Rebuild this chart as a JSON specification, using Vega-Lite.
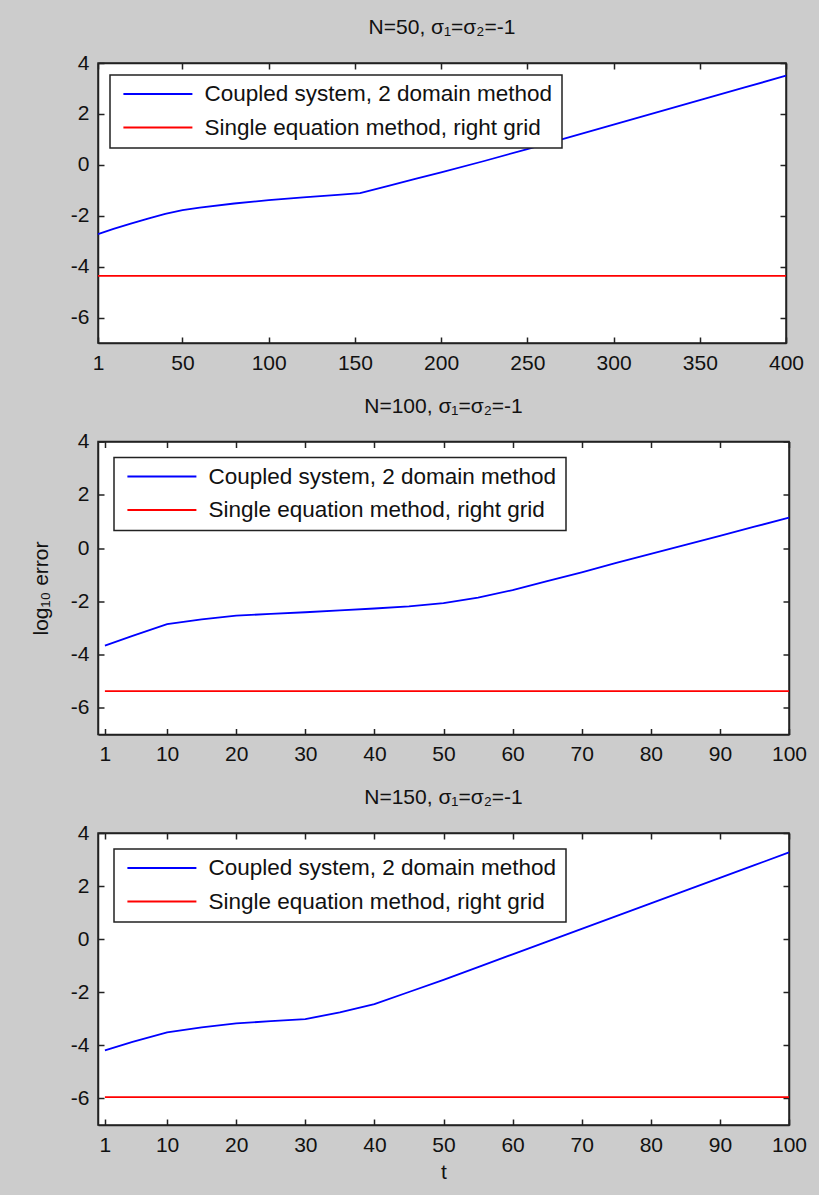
{
  "$schema": "https://vega.github.io/schema/vega-lite/v6.json",
  "background": "#cccccc",
  "padding": {"left": 29, "top": 16, "right": 12, "bottom": 13},
  "bounds": "flush",
  "spacing": 98.5,
  "datasets": {
    "p1": [
      {"t": 1, "v": -2.72, "s": "Coupled system, 2 domain method"},
      {"t": 10, "v": -2.52, "s": "Coupled system, 2 domain method"},
      {"t": 20, "v": -2.31, "s": "Coupled system, 2 domain method"},
      {"t": 30, "v": -2.11, "s": "Coupled system, 2 domain method"},
      {"t": 40, "v": -1.93, "s": "Coupled system, 2 domain method"},
      {"t": 50, "v": -1.78, "s": "Coupled system, 2 domain method"},
      {"t": 60, "v": -1.68, "s": "Coupled system, 2 domain method"},
      {"t": 80, "v": -1.52, "s": "Coupled system, 2 domain method"},
      {"t": 100, "v": -1.39, "s": "Coupled system, 2 domain method"},
      {"t": 120, "v": -1.28, "s": "Coupled system, 2 domain method"},
      {"t": 140, "v": -1.18, "s": "Coupled system, 2 domain method"},
      {"t": 153, "v": -1.11, "s": "Coupled system, 2 domain method"},
      {"t": 170, "v": -0.82, "s": "Coupled system, 2 domain method"},
      {"t": 185, "v": -0.55, "s": "Coupled system, 2 domain method"},
      {"t": 200, "v": -0.3, "s": "Coupled system, 2 domain method"},
      {"t": 225, "v": 0.15, "s": "Coupled system, 2 domain method"},
      {"t": 250, "v": 0.62, "s": "Coupled system, 2 domain method"},
      {"t": 275, "v": 1.1, "s": "Coupled system, 2 domain method"},
      {"t": 300, "v": 1.58, "s": "Coupled system, 2 domain method"},
      {"t": 325, "v": 2.06, "s": "Coupled system, 2 domain method"},
      {"t": 350, "v": 2.54, "s": "Coupled system, 2 domain method"},
      {"t": 375, "v": 3.02, "s": "Coupled system, 2 domain method"},
      {"t": 400, "v": 3.5, "s": "Coupled system, 2 domain method"},
      {"t": 1, "v": -4.36, "s": "Single equation method, right grid"},
      {"t": 400, "v": -4.36, "s": "Single equation method, right grid"}
    ],
    "p2": [
      {"t": 1, "v": -3.66, "s": "Coupled system, 2 domain method"},
      {"t": 5, "v": -3.3, "s": "Coupled system, 2 domain method"},
      {"t": 10, "v": -2.86, "s": "Coupled system, 2 domain method"},
      {"t": 15, "v": -2.68, "s": "Coupled system, 2 domain method"},
      {"t": 20, "v": -2.54, "s": "Coupled system, 2 domain method"},
      {"t": 25, "v": -2.47, "s": "Coupled system, 2 domain method"},
      {"t": 30, "v": -2.41, "s": "Coupled system, 2 domain method"},
      {"t": 35, "v": -2.34, "s": "Coupled system, 2 domain method"},
      {"t": 40, "v": -2.27, "s": "Coupled system, 2 domain method"},
      {"t": 45, "v": -2.19, "s": "Coupled system, 2 domain method"},
      {"t": 50, "v": -2.07, "s": "Coupled system, 2 domain method"},
      {"t": 55, "v": -1.86, "s": "Coupled system, 2 domain method"},
      {"t": 60, "v": -1.58, "s": "Coupled system, 2 domain method"},
      {"t": 65, "v": -1.24, "s": "Coupled system, 2 domain method"},
      {"t": 70, "v": -0.91, "s": "Coupled system, 2 domain method"},
      {"t": 75, "v": -0.56, "s": "Coupled system, 2 domain method"},
      {"t": 80, "v": -0.22, "s": "Coupled system, 2 domain method"},
      {"t": 85, "v": 0.12, "s": "Coupled system, 2 domain method"},
      {"t": 90, "v": 0.46, "s": "Coupled system, 2 domain method"},
      {"t": 95, "v": 0.8, "s": "Coupled system, 2 domain method"},
      {"t": 100, "v": 1.14, "s": "Coupled system, 2 domain method"},
      {"t": 1, "v": -5.37, "s": "Single equation method, right grid"},
      {"t": 100, "v": -5.37, "s": "Single equation method, right grid"}
    ],
    "p3": [
      {"t": 1, "v": -4.19, "s": "Coupled system, 2 domain method"},
      {"t": 5, "v": -3.87, "s": "Coupled system, 2 domain method"},
      {"t": 10, "v": -3.51, "s": "Coupled system, 2 domain method"},
      {"t": 15, "v": -3.32, "s": "Coupled system, 2 domain method"},
      {"t": 20, "v": -3.17, "s": "Coupled system, 2 domain method"},
      {"t": 25, "v": -3.09, "s": "Coupled system, 2 domain method"},
      {"t": 30, "v": -3.01, "s": "Coupled system, 2 domain method"},
      {"t": 35, "v": -2.76, "s": "Coupled system, 2 domain method"},
      {"t": 40, "v": -2.45, "s": "Coupled system, 2 domain method"},
      {"t": 45, "v": -1.99, "s": "Coupled system, 2 domain method"},
      {"t": 50, "v": -1.53, "s": "Coupled system, 2 domain method"},
      {"t": 55, "v": -1.05, "s": "Coupled system, 2 domain method"},
      {"t": 60, "v": -0.57, "s": "Coupled system, 2 domain method"},
      {"t": 65, "v": -0.09, "s": "Coupled system, 2 domain method"},
      {"t": 70, "v": 0.39, "s": "Coupled system, 2 domain method"},
      {"t": 75, "v": 0.87, "s": "Coupled system, 2 domain method"},
      {"t": 80, "v": 1.35, "s": "Coupled system, 2 domain method"},
      {"t": 85, "v": 1.83, "s": "Coupled system, 2 domain method"},
      {"t": 90, "v": 2.31, "s": "Coupled system, 2 domain method"},
      {"t": 95, "v": 2.79, "s": "Coupled system, 2 domain method"},
      {"t": 100, "v": 3.27, "s": "Coupled system, 2 domain method"},
      {"t": 1, "v": -5.95, "s": "Single equation method, right grid"},
      {"t": 100, "v": -5.95, "s": "Single equation method, right grid"}
    ]
  },
  "config": {
    "view": {"fill": "white", "stroke": "#222222", "strokeWidth": 1.5},
    "font": "Liberation Sans",
    "axis": {
      "grid": false,
      "domainColor": "#222222",
      "domainWidth": 1.5,
      "tickColor": "#222222",
      "tickWidth": 1.5,
      "tickSize": -6,
      "labelPadding": 15,
      "labelColor": "#111111",
      "labelFont": "Liberation Sans",
      "labelFontSize": 21,
      "labelFlush": false,
      "labelOverlap": false,
      "labelExpr": "replace(datum.label, '−', '-')",
      "titleFont": "Liberation Sans",
      "titleFontSize": 21,
      "titleFontWeight": "normal",
      "titleColor": "#111111"
    },
    "legend": {
      "orient": "top-left",
      "symbolType": "stroke",
      "symbolSize": 4761,
      "symbolStrokeWidth": 1.8,
      "symbolOffset": 3.4,
      "labelOffset": 11,
      "labelFont": "Liberation Sans",
      "labelFontSize": 22.5,
      "labelColor": "#111111",
      "labelLimit": 0,
      "padding": 9,
      "rowPadding": 10.5,
      "clipHeight": 20,
      "strokeColor": "#222222",
      "strokeWidth": 1.5,
      "fillColor": "white"
    },
    "title": {"font": "Liberation Sans", "fontSize": 21, "fontWeight": "normal", "color": "#111111", "offset": 14, "baseline": "alphabetic"},
    "line": {"strokeWidth": 1.8}
  },
  "resolve": {"scale": {"color": "independent"}, "legend": {"color": "independent"}},
  "vconcat": [
    {
      "width": 688,
      "height": 280,
      "title": "N=50, σ₁=σ₂=-1",
      "data": {"name": "p1"},
      "layer": [
        {
          "mark": {"type": "line"},
          "encoding": {
            "x": {"field": "t", "type": "quantitative", "scale": {"domain": [1, 400], "nice": false, "zero": false}, "axis": {"orient": "bottom", "title": null, "values": [1, 50, 100, 150, 200, 250, 300, 350, 400]}},
            "y": {"field": "v", "type": "quantitative", "scale": {"domain": [-7, 4], "nice": false, "zero": false}, "axis": {"orient": "left", "title": null, "values": [-6, -4, -2, 0, 2, 4]}},
            "color": {"field": "s", "type": "nominal", "scale": {"domain": ["Coupled system, 2 domain method", "Single equation method, right grid"], "range": ["#0000ff", "#ff0000"]}, "legend": {"title": null, "offset": 12}}
          }
        },
        {
          "mark": {"type": "line", "opacity": 0},
          "encoding": {
            "x": {"field": "t", "type": "quantitative", "scale": {"domain": [1, 400], "nice": false, "zero": false}, "axis": {"orient": "top", "title": null, "labels": false, "values": [1, 50, 100, 150, 200, 250, 300, 350, 400]}},
            "y": {"field": "v", "type": "quantitative", "scale": {"domain": [-7, 4], "nice": false, "zero": false}, "axis": {"orient": "right", "title": null, "labels": false, "values": [-6, -4, -2, 0, 2, 4]}},
            "detail": {"field": "s", "type": "nominal"}
          }
        }
      ],
      "resolve": {"axis": {"x": "independent", "y": "independent"}}
    },
    {
      "width": 691,
      "height": 293,
      "title": "N=100, σ₁=σ₂=-1",
      "data": {"name": "p2"},
      "layer": [
        {
          "mark": {"type": "line"},
          "encoding": {
            "x": {"field": "t", "type": "quantitative", "scale": {"domain": [0, 100], "nice": false, "zero": false}, "axis": {"orient": "bottom", "title": null, "values": [1, 10, 20, 30, 40, 50, 60, 70, 80, 90, 100]}},
            "y": {"field": "v", "type": "quantitative", "scale": {"domain": [-7, 4], "nice": false, "zero": false}, "axis": {"orient": "left", "title": "log₁₀ error", "titlePadding": 19, "values": [-6, -4, -2, 0, 2, 4]}},
            "color": {"field": "s", "type": "nominal", "scale": {"domain": ["Coupled system, 2 domain method", "Single equation method, right grid"], "range": ["#0000ff", "#ff0000"]}, "legend": {"title": null, "offset": 16}}
          }
        },
        {
          "mark": {"type": "line", "opacity": 0},
          "encoding": {
            "x": {"field": "t", "type": "quantitative", "scale": {"domain": [0, 100], "nice": false, "zero": false}, "axis": {"orient": "top", "title": null, "labels": false, "values": [1, 10, 20, 30, 40, 50, 60, 70, 80, 90, 100]}},
            "y": {"field": "v", "type": "quantitative", "scale": {"domain": [-7, 4], "nice": false, "zero": false}, "axis": {"orient": "right", "title": null, "labels": false, "values": [-6, -4, -2, 0, 2, 4]}},
            "detail": {"field": "s", "type": "nominal"}
          }
        }
      ],
      "resolve": {"axis": {"x": "independent", "y": "independent"}}
    },
    {
      "width": 691,
      "height": 292,
      "title": "N=150, σ₁=σ₂=-1",
      "data": {"name": "p3"},
      "layer": [
        {
          "mark": {"type": "line"},
          "encoding": {
            "x": {"field": "t", "type": "quantitative", "scale": {"domain": [0, 100], "nice": false, "zero": false}, "axis": {"orient": "bottom", "title": "t", "titlePadding": 6, "values": [1, 10, 20, 30, 40, 50, 60, 70, 80, 90, 100]}},
            "y": {"field": "v", "type": "quantitative", "scale": {"domain": [-7, 4], "nice": false, "zero": false}, "axis": {"orient": "left", "title": null, "values": [-6, -4, -2, 0, 2, 4]}},
            "color": {"field": "s", "type": "nominal", "scale": {"domain": ["Coupled system, 2 domain method", "Single equation method, right grid"], "range": ["#0000ff", "#ff0000"]}, "legend": {"title": null, "offset": 16}}
          }
        },
        {
          "mark": {"type": "line", "opacity": 0},
          "encoding": {
            "x": {"field": "t", "type": "quantitative", "scale": {"domain": [0, 100], "nice": false, "zero": false}, "axis": {"orient": "top", "title": null, "labels": false, "values": [1, 10, 20, 30, 40, 50, 60, 70, 80, 90, 100]}},
            "y": {"field": "v", "type": "quantitative", "scale": {"domain": [-7, 4], "nice": false, "zero": false}, "axis": {"orient": "right", "title": null, "labels": false, "values": [-6, -4, -2, 0, 2, 4]}},
            "detail": {"field": "s", "type": "nominal"}
          }
        }
      ],
      "resolve": {"axis": {"x": "independent", "y": "independent"}}
    }
  ]
}
